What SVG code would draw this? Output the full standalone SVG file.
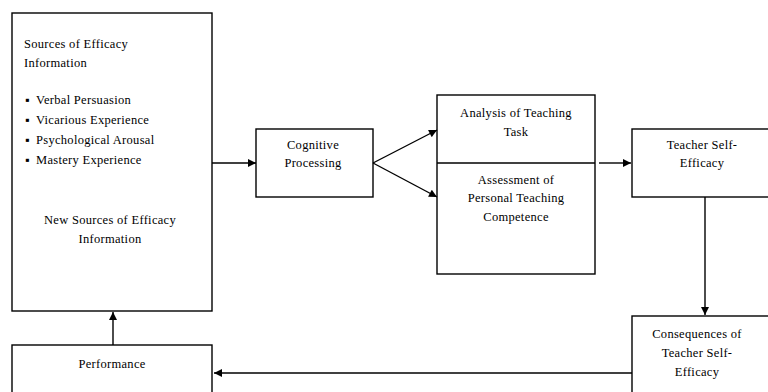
<svg xmlns="http://www.w3.org/2000/svg" width="768" height="392" viewBox="0 0 768 392">
<defs>
<style>
.box{fill:#fff;stroke:#000;stroke-width:1.4}
.t{font-family:"Liberation Serif",serif;font-size:12.5px;letter-spacing:0.3px;fill:#000}
.c{text-anchor:middle}
.ln{stroke:#000;stroke-width:1.4;fill:none}
</style>
<marker id="ah" viewBox="0 0 10 10" refX="10" refY="5" markerWidth="9" markerHeight="8" markerUnits="userSpaceOnUse" orient="auto">
<path d="M0,0 L10,5 L0,10 z" fill="#000"/>
</marker>
</defs>
<rect width="768" height="392" fill="#fff"/>
<g id="sources">
<rect class="box" x="12" y="13" width="200" height="298"/>
<text class="t" x="24" y="48">Sources of Efficacy</text>
<text class="t" x="24" y="67">Information</text>
<text class="t" x="25" y="104">▪</text><text class="t" x="36" y="104">Verbal Persuasion</text>
<text class="t" x="25" y="124">▪</text><text class="t" x="36" y="124">Vicarious Experience</text>
<text class="t" x="25" y="144">▪</text><text class="t" x="36" y="144">Psychological Arousal</text>
<text class="t" x="25" y="164">▪</text><text class="t" x="36" y="164">Mastery Experience</text>
<text class="t c" x="110" y="224">New Sources of Efficacy</text>
<text class="t c" x="110" y="243">Information</text>
</g>
<g id="cognitive">
<rect class="box" x="256" y="129" width="117" height="68"/>
<text class="t c" x="313" y="149">Cognitive</text>
<text class="t c" x="313" y="167">Processing</text>
</g>
<g id="analysis">
<rect class="box" x="437" y="95" width="158" height="179"/>
<line class="ln" x1="437" y1="163" x2="595" y2="163"/>
<text class="t c" x="516" y="117">Analysis of Teaching</text>
<text class="t c" x="516" y="136">Task</text>
<text class="t c" x="516" y="184">Assessment of</text>
<text class="t c" x="516" y="202">Personal Teaching</text>
<text class="t c" x="516" y="221">Competence</text>
</g>
<g id="tse">
<rect class="box" x="632" y="129" width="145" height="68"/>
<text class="t c" x="702" y="149">Teacher Self-</text>
<text class="t c" x="702" y="167">Efficacy</text>
</g>
<g id="consequences">
<rect class="box" x="632" y="316" width="145" height="90"/>
<text class="t c" x="697" y="338">Consequences of</text>
<text class="t c" x="697" y="357">Teacher Self-</text>
<text class="t c" x="697" y="376">Efficacy</text>
</g>
<g id="performance">
<rect class="box" x="12" y="345" width="200" height="60"/>
<text class="t c" x="112" y="368">Performance</text>
</g>
<g id="connectors">
<line class="ln" x1="212" y1="163" x2="256" y2="163" marker-end="url(#ah)"/>
<line class="ln" x1="373" y1="163" x2="437" y2="130" marker-end="url(#ah)"/>
<line class="ln" x1="373" y1="163" x2="437" y2="197" marker-end="url(#ah)"/>
<line class="ln" x1="599" y1="163" x2="631" y2="163" marker-end="url(#ah)"/>
<line class="ln" x1="705" y1="197" x2="705" y2="315" marker-end="url(#ah)"/>
<line class="ln" x1="632" y1="373" x2="214" y2="373" marker-end="url(#ah)"/>
<line class="ln" x1="113" y1="345" x2="113" y2="312" marker-end="url(#ah)"/>
</g>
</svg>
